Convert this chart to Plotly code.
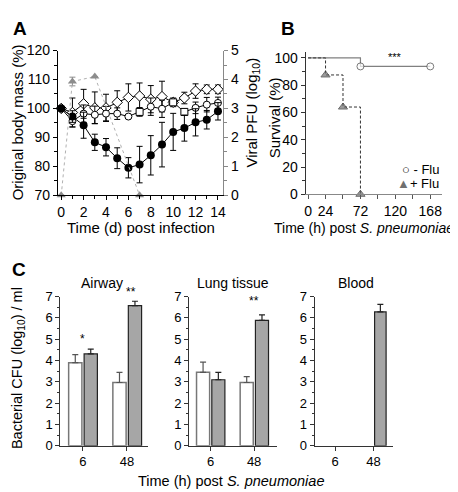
import plotly.graph_objects as go

W, H = 458, 492
FONT = "Liberation Sans, Arial, sans-serif"

# ---------- Panel A data ----------
days = list(range(15))
mass_infected = [100, 97.2, 94.2, 88.3, 86.6, 82.8, 79.5, 80.6, 83.8, 87.5, 91.9, 93.2, 95.2, 96.1, 99.0]
mass_infected_err = [0, 2, 4.5, 2.8, 3, 3.6, 3.5, 6.3, 6.8, 7.7, 6.4, 4.5, 4.7, 3.2, 3.0]
mass_diamond = [100, 98.6, 101.6, 100.2, 100.2, 102.1, 103.8, 104.3, 103.2, 104.1, 102.1, 103.6, 106.0, 106.6, 106.6]
mass_diamond_err = [0, 5, 5, 5.5, 4.7, 4, 4.7, 4.5, 4.7, 5.3, 1.5, 2, 2.5, 1.5, 1.5]
mass_circle = [100, 95.6, 98.2, 97.8, 98.2, 98.2, 97.2, 98.8, 100.6, 99.9, 102.1, 98.8, 100.2, 101.3, 101.9]
mass_circle_err = [0, 2, 3, 3, 2.5, 2, 0.5, 1.5, 3, 3, 1, 1, 2, 2.5, 2]
circle_symbols = ["circle"] * 7 + ["square", "circle", "circle", "square", "square", "circle", "circle", "circle"]
viral_days = [0, 1, 3, 7]
viral_pfu = [0, 3.93, 4.1, 0]
viral_err = [0, 0.15, 0, 0]

# ---------- Panel B data ----------
surv_minus_t = [0, 72, 168]
surv_minus = [100, 93.75, 93.75]
surv_plus_t = [0, 24, 48, 72]
surv_plus = [100, 87.5, 64, 0]
legend_labels = ["- Flu", "+ Flu"]

# ---------- Panel C data ----------
c_times = ["6", "48"]
c_titles = ["Airway", "Lung tissue", "Blood"]
airway_noflu = [3.9, 2.97]
airway_noflu_err = [0.38, 0.48]
airway_flu = [4.31, 6.58]
airway_flu_err = [0.23, 0.2]
lung_noflu = [3.45, 2.97]
lung_noflu_err = [0.48, 0.28]
lung_flu = [3.1, 5.88]
lung_flu_err = [0.35, 0.26]
blood_noflu = [None, None]
blood_noflu_err = [0, 0]
blood_flu = [None, 6.28]
blood_flu_err = [0, 0.35]


def px_x(p):
    return p / W


def px_y(p):
    return 1 - p / H


fig = go.Figure()

# Panel A traces
fig.add_trace(go.Scatter(
    x=viral_days, y=viral_pfu, yaxis="y2", xaxis="x", mode="lines+markers",
    line=dict(color="#b0b0b0", width=1, dash="dot"),
    marker=dict(symbol="triangle-up", size=8, color="#8c8c8c"),
    error_y=dict(type="data", array=viral_err, color="#8c8c8c", thickness=1, width=3),
    cliponaxis=False, showlegend=False))
fig.add_trace(go.Scatter(
    x=days, y=mass_diamond, xaxis="x", yaxis="y", mode="lines+markers",
    line=dict(color="black", width=1),
    marker=dict(symbol="diamond", size=8, color="white", line=dict(color="black", width=1)),
    error_y=dict(type="data", array=mass_diamond_err, color="black", thickness=1, width=3),
    cliponaxis=False, showlegend=False))
fig.add_trace(go.Scatter(
    x=days, y=mass_circle, xaxis="x", yaxis="y", mode="lines+markers",
    line=dict(color="black", width=1),
    marker=dict(symbol=circle_symbols, size=7, color="white", line=dict(color="black", width=1)),
    error_y=dict(type="data", array=mass_circle_err, color="black", thickness=1, width=3),
    cliponaxis=False, showlegend=False))
fig.add_trace(go.Scatter(
    x=days, y=mass_infected, xaxis="x", yaxis="y", mode="lines+markers",
    line=dict(color="black", width=1),
    marker=dict(symbol="circle", size=8, color="black"),
    error_y=dict(type="data", array=mass_infected_err, color="black", thickness=1, width=3),
    cliponaxis=False, showlegend=False))

# Panel B traces
fig.add_trace(go.Scatter(
    x=surv_minus_t, y=surv_minus, xaxis="x3", yaxis="y3", mode="lines+markers",
    line=dict(color="#808080", width=1.2, shape="hv"),
    marker=dict(symbol="circle", size=[0, 7, 7], color="white", line=dict(color="#444", width=1)),
    cliponaxis=False, showlegend=False))
fig.add_trace(go.Scatter(
    x=surv_plus_t, y=surv_plus, xaxis="x3", yaxis="y3", mode="lines+markers",
    line=dict(color="#333", width=1, shape="hv", dash="3px,2px"),
    marker=dict(symbol="triangle-up", size=[0, 8, 8, 8], color="#707070"),
    cliponaxis=False, showlegend=False))

# Panel C traces
c_x = [0, 1]
panels = [
    ("x4", "y4", airway_noflu, airway_noflu_err, airway_flu, airway_flu_err),
    ("x5", "y5", lung_noflu, lung_noflu_err, lung_flu, lung_flu_err),
    ("x6", "y6", blood_noflu, blood_noflu_err, blood_flu, blood_flu_err),
]
for xa, ya, wv, we, gv, ge in panels:
    fig.add_trace(go.Bar(
        x=c_x, y=wv, xaxis=xa, yaxis=ya, offset=-0.32, width=0.3,
        marker=dict(color="white", line=dict(color="#777", width=1.5)),
        error_y=dict(type="data", array=we, arrayminus=[0, 0], symmetric=False,
                     color="#555", thickness=1.2, width=3),
        showlegend=False))
    fig.add_trace(go.Bar(
        x=c_x, y=gv, xaxis=xa, yaxis=ya, offset=0.03, width=0.3,
        marker=dict(color="#a6a6a6", line=dict(color="#222", width=1.2)),
        error_y=dict(type="data", array=ge, arrayminus=[0, 0], symmetric=False,
                     color="#222", thickness=1.2, width=3),
        showlegend=False))

tickfont = dict(family=FONT, size=14, color="black")
tickfont_c = dict(family=FONT, size=13, color="black")

common = dict(showgrid=False, zeroline=False, showline=True, ticks="outside",
              ticklen=4, tickwidth=1, linewidth=1)

layout = dict(
    width=W, height=H, margin=dict(l=0, r=0, t=0, b=0),
    paper_bgcolor="white", plot_bgcolor="rgba(0,0,0,0)",
    font=dict(family=FONT, color="black"),
    barmode="overlay", showlegend=False,
    # Panel A
    xaxis=dict(domain=[px_x(49.3), px_x(216)], range=[-0.3, 14.46], anchor="y",
               tickvals=list(range(0, 15, 2)), tickfont=tickfont, linecolor="black",
               tickcolor="black", minor=dict(dtick=1, ticks="outside", ticklen=3, tickcolor="black"),
               **common),
    yaxis=dict(domain=[px_y(185.3), px_y(35.7)], range=[70, 120], anchor="x",
               tickvals=[70, 80, 90, 100, 110, 120], tickfont=tickfont, linecolor="black",
               tickcolor="black", minor=dict(dtick=5, ticks="outside", ticklen=3, tickcolor="black"),
               **common),
    yaxis2=dict(range=[0, 5], overlaying="y", anchor="x", side="right",
                tickvals=[0, 1, 2, 3, 4, 5], tickfont=tickfont, linecolor="#888",
                tickcolor="#888", minor=dict(dtick=0.5, ticks="outside", ticklen=3, tickcolor="#888"),
                **common),
    # Panel B
    xaxis3=dict(domain=[px_x(299.3), px_x(436.7)], range=[-3.3, 184], anchor="y3",
                tickvals=[0, 24, 72, 120, 168],
                tickfont=tickfont, linecolor="#888", tickcolor="#555",
                minor=dict(tick0=0, dtick=24, ticks="outside", ticklen=4, tickcolor="#555"),
                **common),
    yaxis3=dict(domain=[px_y(184.3), px_y(36.7)], range=[0, 104.7], anchor="x3",
                tickvals=[0, 20, 40, 60, 80, 100], tickfont=tickfont, linecolor="#333",
                tickcolor="#333", minor=dict(dtick=10, ticks="outside", ticklen=3, tickcolor="#333"),
                **common),
)

c_domains = [(51.7, 140, -0.51, 1.47), (181.7, 270, -0.49, 1.516), (308.3, 387, -0.535, 1.5)]
for i, (x0, x1, r0, r1) in enumerate(c_domains):
    n = i + 4
    layout[f"xaxis{n}"] = dict(domain=[px_x(x0), px_x(x1)], range=[r0, r1], anchor=f"y{n}",
                               tickvals=c_x, ticktext=c_times, tickfont=tickfont_c,
                               linecolor="#333", tickcolor="#333", **common)
    layout[f"yaxis{n}"] = dict(domain=[px_y(444.3), px_y(290)], range=[0, 7], anchor=f"x{n}",
                               tickvals=list(range(8)), tickfont=tickfont_c,
                               linecolor="#333", tickcolor="#333",
                               minor=dict(dtick=0.5, ticks="outside", ticklen=2, tickcolor="#333"),
                               **common)

fig.update_layout(**layout)


def ann(text, x, y, size=14, angle=0, bold=False, xanchor="center", yanchor="middle", ref=("paper", "paper")):
    if bold:
        text = f"<b>{text}</b>"
    fig.add_annotation(text=text, x=x, y=y, xref=ref[0], yref=ref[1], showarrow=False,
                       textangle=angle, xanchor=xanchor, yanchor=yanchor,
                       font=dict(family=FONT, size=size, color="black"))


# Panel letters
ann("A", px_x(2), px_y(13), size=19, bold=True, xanchor="left")
ann("B", px_x(272), px_y(13), size=19, bold=True, xanchor="left")
ann("C", px_x(1), px_y(262), size=19, bold=True, xanchor="left")

# Axis titles
ann("Time (d) post infection", px_x(133), px_y(219), size=15)
ann("Original body mass (%)", px_x(9), px_y(110), size=15, angle=-90)
ann("Viral PFU (log<sub>10</sub>)", px_x(246), px_y(100), size=15, angle=-90)
ann("Survival (%)", px_x(268), px_y(105), size=15, angle=-90)
ann("Time (h) post <i>S. pneumoniae</i>", px_x(358), px_y(219), size=14)
ann("Bacterial CFU (log<sub>10</sub>) / ml", px_x(9), px_y(364), size=14.5, angle=-90)
ann("Time (h) post <i>S. pneumoniae</i>", px_x(224), px_y(481), size=14.5)

# Legend of panel B
ann("○ " + legend_labels[0], px_x(436), px_y(159), size=13, xanchor="right")
ann("<span style='color:#707070'>▲</span>" + legend_labels[1], px_x(436), px_y(173), size=13, xanchor="right")

# Panel C titles
ann(c_titles[0], px_x(94), px_y(276), size=14)
ann(c_titles[1], px_x(226), px_y(276), size=14)
ann(c_titles[2], px_x(350), px_y(276), size=14)

# Significance marks
ann("***", 120, 94.5, size=11, yanchor="bottom", ref=("x3", "y3"))
ann("*", 0, 4.6, size=12, yanchor="bottom", ref=("x4", "y4"))
ann("**", 1.08, 6.8, size=12, yanchor="bottom", ref=("x4", "y4"))
ann("**", 1, 6.35, size=12, yanchor="bottom", ref=("x5", "y5"))

fig.write_html("out.html")
